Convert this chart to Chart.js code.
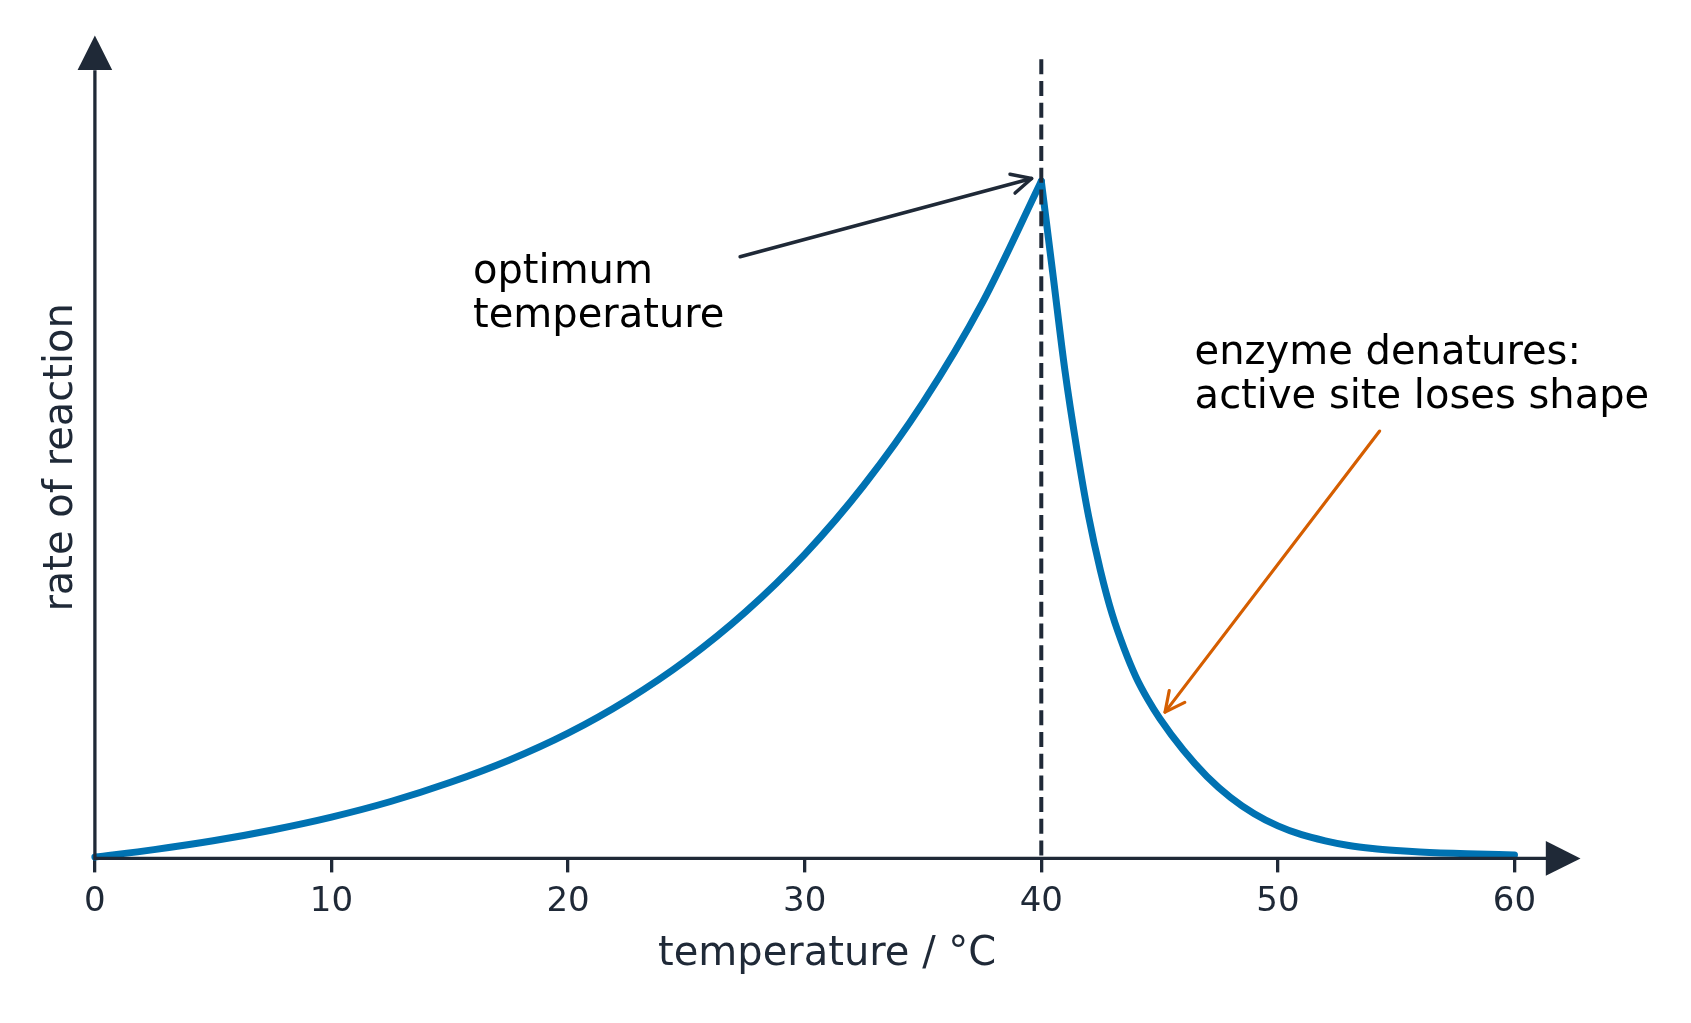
<!DOCTYPE html>
<html>
<head>
<meta charset="utf-8">
<script src="https://cdn.jsdelivr.net/npm/chart.js@4/dist/chart.umd.min.js"></script>
<style>
html, body { margin: 0; padding: 0; background: #fff; }
#wrap { width: 1691px; height: 1023px; position: relative; }
</style>
</head>
<body>
<div id="wrap"><canvas id="c"></canvas></div>
<script>
// temperature in °C and rate of reaction (relative, peak = 1)
var temperature = [0, 2.5, 5, 7.5, 10, 12.5, 15, 17.5, 20, 22.5, 25, 27.5, 30, 32.5, 35, 37.5, 40,
                   40.5, 41, 41.5, 42, 42.5, 43, 43.5, 44, 44.5, 45, 46, 47, 48, 49, 50, 51, 52, 53, 54, 55, 56, 58, 60];
var rate = [0.002, 0.013, 0.026, 0.042, 0.061, 0.084, 0.112, 0.145, 0.185, 0.234, 0.293, 0.364, 0.449, 0.551, 0.673, 0.820, 1.0,
            0.86, 0.72, 0.605, 0.505, 0.425, 0.36, 0.31, 0.268, 0.235, 0.207, 0.16, 0.121, 0.09, 0.066, 0.048, 0.035, 0.026, 0.019, 0.0145, 0.0115, 0.0093, 0.0067, 0.0052];
var xTicks = [0, 10, 20, 30, 40, 50, 60];
var optimumTemp = 40;

var optimumText = ['optimum', 'temperature'];
var denatureText = ['enzyme denatures:', 'active site loses shape'];

var ink = '#1f2937';
var blue = '#0072B2';
var orange = '#D55E00';
var fontFamily = '"DejaVu Sans", sans-serif';

var peak = temperature.indexOf(optimumTemp);
function points(from, to) {
    var out = [];
    for (var i = from; i <= to; i++) out.push({x: temperature[i], y: rate[i]});
    return out;
}

function openArrow(ctx, x1, y1, x2, y2, len) {
    var a = Math.atan2(y2 - y1, x2 - x1);
    ctx.beginPath();
    ctx.moveTo(x1, y1);
    ctx.lineTo(x2, y2);
    ctx.stroke();
    ctx.beginPath();
    ctx.moveTo(x2 - len * Math.cos(a - 0.46), y2 - len * Math.sin(a - 0.46));
    ctx.lineTo(x2, y2);
    ctx.lineTo(x2 - len * Math.cos(a + 0.46), y2 - len * Math.sin(a + 0.46));
    ctx.stroke();
}

var decor = {
    id: 'decor',
    afterDatasetsDraw: function (chart) {
        var ctx = chart.ctx, xs = chart.scales.x, ys = chart.scales.y, area = chart.chartArea;
        var x0 = xs.getPixelForValue(0), y0 = ys.getPixelForValue(0);
        ctx.save();

        // dashed line at the optimum
        var xo = xs.getPixelForValue(optimumTemp);
        ctx.strokeStyle = ink;
        ctx.lineWidth = 4;
        ctx.setLineDash([15, 6.7]);
        ctx.beginPath();
        ctx.moveTo(xo, area.top);
        ctx.lineTo(xo, y0);
        ctx.stroke();
        ctx.setLineDash([]);

        // axes with arrow heads
        ctx.lineWidth = 3.3;
        ctx.lineCap = 'butt';
        ctx.beginPath();
        ctx.moveTo(x0, y0);
        ctx.lineTo(x0, area.top + 11);
        ctx.moveTo(x0 - 1.6, y0);
        ctx.lineTo(area.right + 32, y0);
        ctx.stroke();
        ctx.fillStyle = ink;
        ctx.beginPath();
        ctx.moveTo(x0, area.top - 23.7);
        ctx.lineTo(x0 - 17.3, area.top + 10.8);
        ctx.lineTo(x0 + 17.3, area.top + 10.8);
        ctx.closePath();
        ctx.fill();
        ctx.beginPath();
        ctx.moveTo(area.right + 66, y0);
        ctx.lineTo(area.right + 31.3, y0 - 17.3);
        ctx.lineTo(area.right + 31.3, y0 + 17.3);
        ctx.closePath();
        ctx.fill();

        // axis titles
        ctx.font = '40px ' + fontFamily;
        ctx.fillStyle = ink;
        ctx.textAlign = 'left';
        ctx.textBaseline = 'alphabetic';
        ctx.fillText('temperature / °C', 658, 965);
        ctx.save();
        ctx.translate(72, (y0 + area.top) / 2 - 1.5);
        ctx.rotate(-Math.PI / 2);
        ctx.textAlign = 'center';
        ctx.fillText('rate of reaction', 0, 0);
        ctx.restore();

        // annotations
        ctx.lineCap = 'round';
        ctx.lineJoin = 'round';
        ctx.strokeStyle = ink;
        ctx.lineWidth = 3.5;
        openArrow(ctx, xs.getPixelForValue(27.27), ys.getPixelForValue(0.8885),
                  xs.getPixelForValue(39.59), ys.getPixelForValue(1.004), 22);
        ctx.strokeStyle = orange;
        ctx.lineWidth = 3.2;
        openArrow(ctx, xs.getPixelForValue(54.3), ys.getPixelForValue(0.631),
                  xs.getPixelForValue(45.23), ys.getPixelForValue(0.216), 22);

        ctx.fillStyle = '#000';
        ctx.textAlign = 'left';
        var tx = xs.getPixelForValue(15.98), ty = ys.getPixelForValue(0.8497);
        optimumText.forEach(function (s, i) { ctx.fillText(s, tx, ty + i * 44); });
        tx = xs.getPixelForValue(46.48); ty = ys.getPixelForValue(0.7296);
        denatureText.forEach(function (s, i) { ctx.fillText(s, tx, ty + i * 43.5); });

        ctx.restore();
    }
};

var lineStyle = {
    borderColor: blue,
    borderWidth: 7,
    pointRadius: 0,
    cubicInterpolationMode: 'monotone',
    borderCapStyle: 'round',
    borderJoinStyle: 'round',
    clip: false
};

new Chart(document.getElementById('c'), {
    type: 'line',
    data: {
        datasets: [
            Object.assign({label: 'rising', data: points(0, peak)}, lineStyle),
            Object.assign({label: 'falling', data: points(peak, temperature.length - 1)}, lineStyle)
        ]
    },
    options: {
        responsive: true,
        maintainAspectRatio: false,
        animation: false,
        layout: {padding: {left: 94.9, right: 176.5, top: 59.3, bottom: 0}},
        plugins: {legend: {display: false}, tooltip: {enabled: false}},
        scales: {
            x: {
                type: 'linear',
                min: 0,
                max: 60,
                afterBuildTicks: function (s) { s.ticks = xTicks.map(function (v) { return {value: v}; }); },
                afterFit: function (s) { s.height = 164.6; },
                border: {display: false},
                grid: {drawOnChartArea: false, drawTicks: true, tickLength: 14, color: ink, lineWidth: 3.3},
                ticks: {font: {family: fontFamily, size: 34}, color: ink, padding: 9, maxRotation: 0, autoSkip: false}
            },
            y: {type: 'linear', min: 0, max: 1.18, display: false}
        }
    },
    plugins: [decor]
});
</script>
</body>
</html>
